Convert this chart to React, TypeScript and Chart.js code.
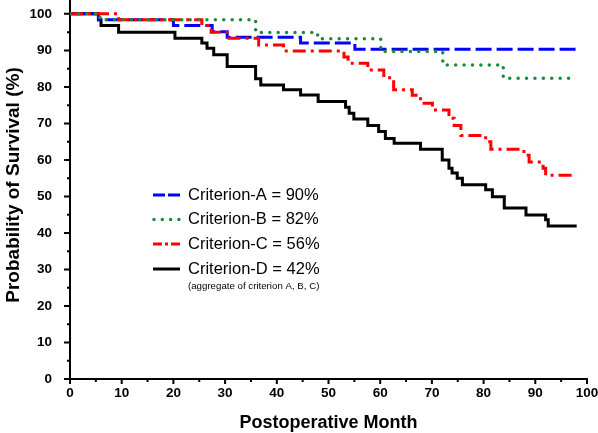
import React, { useEffect, useRef } from "react";
import { Chart, registerables } from "chart.js";

Chart.register(...registerables);

// Kaplan–Meier step data (month, survival %)
const monthsA = [0, 5.5, 20.0, 27.5, 30.4, 44.6, 55.1, 98];
const survA = [100, 98.4, 96.8, 95.1, 93.6, 92.0, 90.3, 90.3];

const monthsB = [0, 5.8, 35.9, 47.9, 60.1, 72.1, 83.8, 98];
const survB = [100, 98.4, 94.9, 93.2, 89.7, 86.0, 82.4, 82.4];

const monthsC = [0, 9.4, 25.5, 27.3, 30.4, 36.5, 41.3, 53.0, 53.8, 57.6, 60.7, 62.6, 66.2, 67.8, 70.1, 73.3, 74.3, 75.6, 80.4, 81.4, 87.8, 88.8, 91.5, 92.0, 98];
const survC = [100, 98.4, 96.8, 95.0, 93.3, 91.5, 89.8, 88.2, 86.5, 84.6, 82.5, 79.2, 77.7, 75.5, 73.7, 71.4, 69.4, 66.7, 65.0, 62.9, 61.3, 59.4, 57.7, 55.8, 55.8];

const monthsD = [0, 5.5, 6.0, 9.4, 20.3, 25.5, 26.5, 27.8, 30.4, 35.9, 36.9, 41.3, 44.6, 48.0, 53.3, 54.0, 54.9, 57.6, 59.7, 61.0, 62.7, 67.8, 72.0, 73.3, 73.9, 74.9, 75.9, 80.4, 81.7, 84.0, 88.2, 92.0, 92.5, 98];
const survD = [100, 98.4, 96.8, 95.0, 93.3, 92.0, 90.6, 88.8, 85.6, 82.2, 80.5, 79.2, 77.8, 76.0, 74.4, 72.8, 71.2, 69.4, 67.8, 65.9, 64.6, 62.9, 60.0, 57.7, 56.4, 55.0, 53.2, 51.8, 49.9, 46.8, 44.9, 43.6, 41.9, 41.9];

const legendLabels = ["Criterion-A = 90%", "Criterion-B = 82%", "Criterion-C = 56%", "Criterion-D = 42%"];
const legendNote = "(aggregate of criterion A, B, C)";
const xTitle = "Postoperative Month";
const yTitle = "Probability of Survival (%)";

const FONT = '"Liberation Sans", Arial, Helvetica, sans-serif';
const BLUE = "#0000ff";
const GREEN = "#1b8a3c";
const RED = "#ff0000";
const BLACK = "#000000";

const zip = (xs: number[], ys: number[]) => xs.map((x, i) => ({ x, y: ys[i] }));

const decorPlugin = {
  id: "decor",
  afterDraw(chart: any) {
    const ctx = chart.ctx;
    const xs = chart.scales.x;
    const ys = chart.scales.y;
    ctx.save();
    // tick marks
    ctx.strokeStyle = BLACK;
    ctx.lineWidth = 2;
    ctx.setLineDash([]);
    ctx.beginPath();
    ys.ticks.forEach((t: any) => {
      const py = ys.getPixelForValue(t.value);
      const len = t.value % 10 === 0 ? 6 : 3;
      ctx.moveTo(ys.right - len, py);
      ctx.lineTo(ys.right, py);
    });
    xs.ticks.forEach((t: any) => {
      const px = xs.getPixelForValue(t.value);
      const len = t.value % 10 === 0 ? 5 : 3;
      ctx.moveTo(px, xs.top);
      ctx.lineTo(px, xs.top + len);
    });
    ctx.stroke();

    // axis titles
    ctx.fillStyle = BLACK;
    ctx.font = `bold 18px ${FONT}`;
    ctx.textAlign = "center";
    ctx.textBaseline = "alphabetic";
    ctx.fillText(xTitle, (chart.chartArea.left + chart.chartArea.right) / 2, 428);
    ctx.save();
    ctx.translate(19, 185);
    ctx.rotate(-Math.PI / 2);
    ctx.font = `bold 19px ${FONT}`;
    ctx.fillText(yTitle, 0, 0);
    ctx.restore();

    // legend
    const rows = [195, 219.5, 244, 269];
    const styles = [
      { color: BLUE, dash: [12, 3], cap: "butt", w: 3 },
      { color: GREEN, dash: [0, 8.3], cap: "round", w: 3.5 },
      { color: RED, dash: [9, 3, 3, 3], cap: "butt", w: 3 },
      { color: BLACK, dash: [], cap: "butt", w: 3 },
    ];
    rows.forEach((ry, i) => {
      const s = styles[i];
      ctx.beginPath();
      ctx.strokeStyle = s.color;
      ctx.lineWidth = s.w;
      ctx.lineCap = s.cap;
      ctx.setLineDash(s.dash);
      ctx.moveTo(i === 1 ? 154 : 153, ry);
      ctx.lineTo(180, ry);
      ctx.stroke();
      ctx.setLineDash([]);
      ctx.lineCap = "butt";
      ctx.fillStyle = BLACK;
      ctx.font = `16.5px ${FONT}`;
      ctx.textAlign = "left";
      ctx.textBaseline = "middle";
      ctx.fillText(legendLabels[i], 188, ry);
    });
    ctx.font = `9.7px ${FONT}`;
    ctx.fillText(legendNote, 188, 286);
    ctx.restore();
  },
};

export default function App() {
  const ref = useRef<HTMLCanvasElement | null>(null);
  useEffect(() => {
    document.body.style.margin = "0";
    if (!ref.current) return;
    const tickFont = { family: FONT, size: 13.5, weight: "bold" as const };
    const chart = new Chart(ref.current, {
      type: "line",
      data: {
        datasets: [
          {
            label: "Criterion-B",
            data: zip(monthsB, survB),
            borderColor: GREEN,
            borderWidth: 3.5,
            borderDash: [0, 8.4],
            borderCapStyle: "round",
            stepped: true,
            pointRadius: 0,
            fill: false,
          },
          {
            label: "Criterion-C",
            data: zip(monthsC, survC),
            borderColor: RED,
            borderWidth: 3,
            borderDash: [13, 5, 3, 5],
            stepped: true,
            pointRadius: 0,
            fill: false,
          },
          {
            label: "Criterion-A",
            data: zip(monthsA, survA),
            borderColor: BLUE,
            borderWidth: 3,
            borderDash: [16, 5],
            stepped: true,
            pointRadius: 0,
            fill: false,
          },
          {
            label: "Criterion-D",
            data: zip(monthsD, survD),
            borderColor: BLACK,
            borderWidth: 3,
            stepped: true,
            pointRadius: 0,
            fill: false,
          },
        ],
      },
      options: {
        animation: false,
        responsive: false,
        maintainAspectRatio: false,
        layout: { padding: { left: 0, right: 0, top: 0, bottom: 0 } },
        plugins: {
          legend: { display: false },
          tooltip: { enabled: false },
          title: { display: false },
        },
        scales: {
          x: {
            type: "linear",
            min: 0,
            max: 100,
            grid: { display: false, drawTicks: false },
            border: { display: true, color: BLACK, width: 2 },
            ticks: {
              stepSize: 5,
              includeBounds: false,
              autoSkip: false,
              maxRotation: 0,
              padding: 6,
              color: BLACK,
              font: tickFont,
              callback: (v: any) => (Number(v) % 10 === 0 ? String(v) : ""),
            },
            afterBuildTicks: (s: any) => {
              s.ticks = s.ticks.filter((t: any) => t.value % 5 === 0 && t.value <= 100);
            },
            afterFit: (s: any) => {
              s.height = 54;
              s.paddingRight = 11;
              s.paddingLeft = 0;
            },
          },
          y: {
            type: "linear",
            min: 0,
            max: 103.8,
            grid: { display: false, drawTicks: false },
            border: { display: true, color: BLACK, width: 2 },
            ticks: {
              stepSize: 5,
              includeBounds: false,
              autoSkip: false,
              padding: 18,
              color: BLACK,
              font: tickFont,
              callback: (v: any) => (Number(v) % 10 === 0 ? String(v) : ""),
            },
            afterBuildTicks: (s: any) => {
              s.ticks = s.ticks.filter((t: any) => t.value % 5 === 0 && t.value <= 100);
            },
            afterFit: (s: any) => {
              s.width = 70;
              s.paddingTop = 0;
              s.paddingBottom = 0;
            },
          },
        },
      },
      plugins: [decorPlugin],
    } as any);
    return () => chart.destroy();
  }, []);
  return (
    <div style={{ width: 598, height: 433, background: "#fff" }}>
      <canvas ref={ref} width={598} height={433} style={{ display: "block", width: 598, height: 433 }} />
    </div>
  );
}
